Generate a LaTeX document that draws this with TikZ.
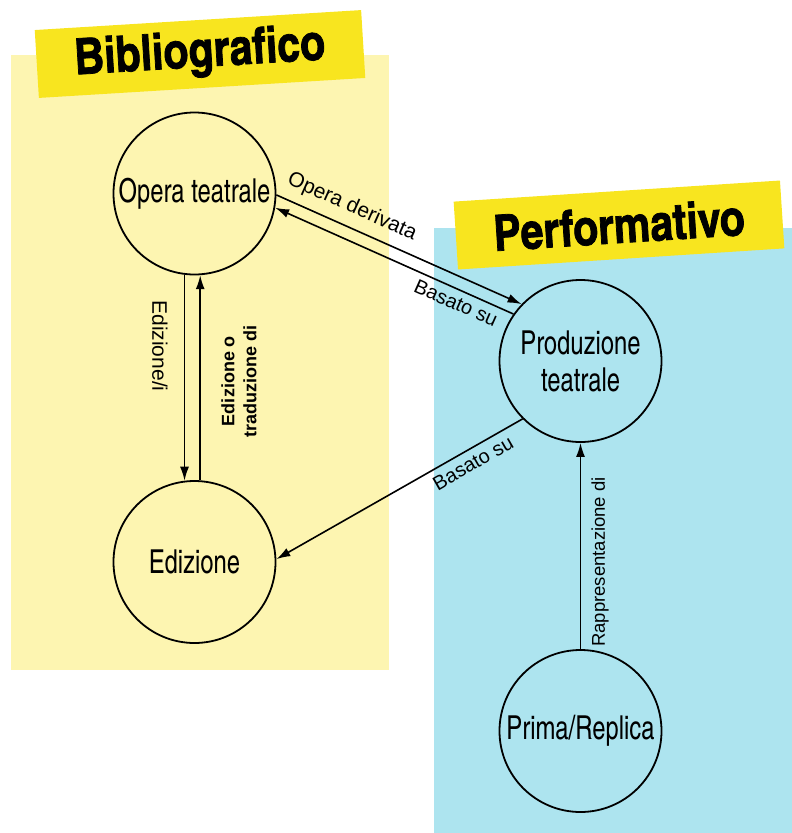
\documentclass[tikz,border=0pt]{standalone}
\usepackage{fontspec}
\newfontfamily\nodefont[FakeStretch=0.88]{texgyreheroscn-regular.otf}
\newfontfamily\headfont[FakeBold=1.5]{texgyreheroscn-bold.otf}
\newfontfamily\labelfont{Liberation Sans}
\usetikzlibrary{arrows.meta}
\definecolor{bibcol}{HTML}{FDF5B1}
\definecolor{perfcol}{HTML}{ADE4EF}
\definecolor{bannercol}{HTML}{F8E51F}

\begin{document}
\begin{tikzpicture}[x=1pt, y=-1pt,
  stage/.style={circle, draw, line width=1.8pt, minimum size=162pt, inner sep=0pt,
                align=center, font=\nodefont\fontsize{33}{37}\selectfont},
  banner/.style={fill=bannercol, minimum width=327pt, minimum height=68pt,
                inner sep=0pt, font=\headfont\fontsize{50}{52}\selectfont},
  rel/.style={-{Latex[length=14pt,width=9pt]}, line width=1.6pt},
  lbl/.style={font=\labelfont\fontsize{20}{22}\selectfont, inner sep=0pt}]

\useasboundingbox (0,0) rectangle (792,833);

\fill[bibcol] (11,55) rectangle (389,670);
\fill[perfcol] (434,228) rectangle (792,833);

\node[banner, rotate=3.5](bib) at (200,54) {Bibliografico};
\node[banner, rotate=3.7](perf) at (619,225) {Performativo};

\node[stage](opera) at (194.5,193.5) {Opera teatrale};
\node[stage](ediz) at (194.5,562) {Edizione};
\node[stage](prod) at (580.5,361) {Produzione\\teatrale};
\node[stage](prima) at (580.5,731) {Prima/Replica};

\draw[rel] (opera.-1) -- (prod.136);
\draw[rel] (prod.145) -- (opera.-10);
\draw[rel] (opera.-97) -- (ediz.97);
\draw[rel] (ediz.86) -- (opera.-86);
\draw[rel] (prod.225) -- (ediz.2);
\draw[rel] (prima) -- (prod);

\node[lbl, rotate=-24, font=\labelfont\fontsize{21}{22}\selectfont](l1) at (352,207) {Opera derivata};
\node[lbl, rotate=-24](l2) at (456,303) {Basato su};
\node[lbl, rotate=-90, font=\labelfont\fontsize{21}{22}\selectfont](l3) at (160,346) {Edizione/i};
\node[lbl, rotate=90, align=center, font=\labelfont\bfseries\fontsize{18}{22}\selectfont](l4)
      at (239,381) {Edizione o\\traduzione di};
\node[lbl, rotate=30](l5) at (473,463) {Basato su};
\node[lbl, rotate=90, font=\labelfont\fontsize{18.5}{22}\selectfont](l6) at (600,562) {Rappresentazione di};

\end{tikzpicture}
\end{document}
